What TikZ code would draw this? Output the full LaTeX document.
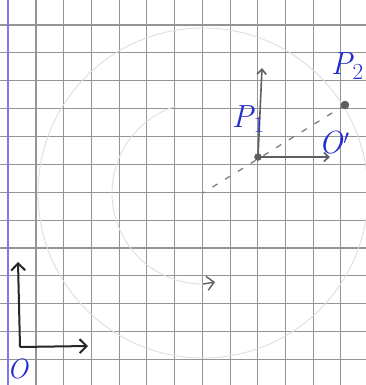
\documentclass[tikz,border=0pt]{standalone}
\usepackage{fontspec}
\usetikzlibrary{arrows.meta}
\definecolor{ink}{RGB}{35,45,205}
\definecolor{pencil}{RGB}{95,95,95}
\definecolor{margin}{RGB}{125,120,235}
\newcommand{\ptlabel}[2]{\textit{#1}\kern-1pt\raisebox{-0.35ex}{\fontsize{23}{24}\selectfont #2}}
\tikzset{
	gridline/.style={line width=1.1pt, black!42},
	faint/.style={line width=0.9pt, black!13},
	pen/.style={line width=1.6pt, pencil, -{Straight Barb[length=5pt,width=9pt]}},
	lbl/.style={ink, inner sep=0pt, font=\fontsize{32}{34}\selectfont}
}
\begin{document}
\begin{tikzpicture}[x=1pt, y=-1pt]
	\useasboundingbox (0,0) rectangle (366,385);
	\fill [white] (0,0) rectangle (366,385);
	\foreach \k in {1,...,12}
		\draw [gridline] ({8.3+27.72*\k},0) -- ({8.3+27.72*\k},385);
	\foreach \k in {0,...,12}
		\draw [gridline] (0,{25+27.87*\k}) -- (366,{25+27.87*\k});
	\draw [line width=2pt, margin] (8,0) -- (8,385);

	\coordinate (C) at (203,193);
	\coordinate (P1) at (258,157);
	\coordinate (P2) at (345,105);
	\coordinate (O) at (20,347);

	\draw [faint] (C) circle (165);
	\draw [faint] (C) ++(253:91) arc (253:90:91) coordinate (low);
	\draw [line width=1.4pt, pencil, -{Straight Barb[length=7pt,width=14pt]}] (low) -- ++(12,-2);

	\draw [line width=1.3pt, black!50, dash pattern=on 6pt off 9pt] (P2) -- (C);

	\draw [pen] (P1) -- (262,68) coordinate (P1up);
	\draw [pen] (P1) -- (330,157) coordinate (P1right);
	\filldraw [pencil] (P1) circle (3.5pt)
		(P2) circle (4pt);

	\draw [line width=2pt, black!85, -{Straight Barb[length=7pt,width=14pt]}] (O) -- (18,262) coordinate (Oup);
	\draw [line width=2pt, black!85, -{Straight Barb[length=7pt,width=14pt]}] (O) -- (88,346) coordinate (Oright);

	\node [lbl] (l1) at (248,119) {\ptlabel{P}{1}};
	\node [lbl] (l2) at (347,66) {\ptlabel{P}{2}};
	\node [lbl] (lo1) at (334,143) {\textit{O}$'$};
	\node [lbl, font=\fontsize{28}{30}\selectfont] (lo) at (18,369) {\textit{O}};
\end{tikzpicture}
\end{document}
